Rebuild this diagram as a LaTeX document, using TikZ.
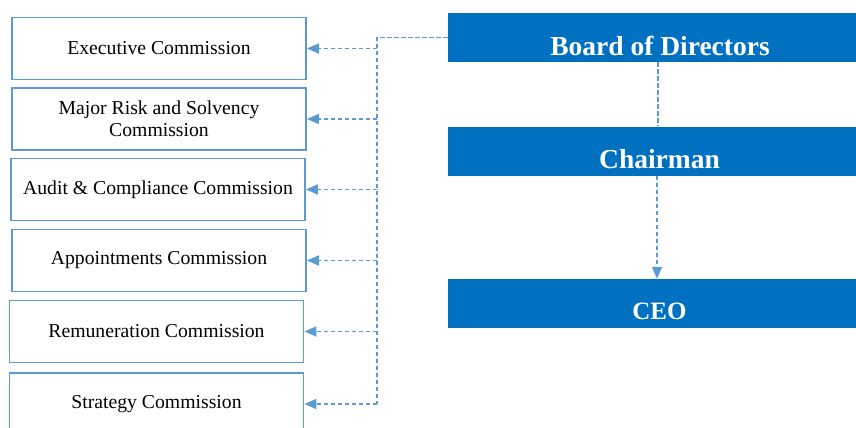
\documentclass[tikz,border=0pt]{standalone}
\usepackage{fontspec}
\setmainfont{Liberation Serif}
\usetikzlibrary{arrows.meta}

\definecolor{boardblue}{HTML}{0070C0}
\definecolor{linkblue}{HTML}{5B9BD5}

\tikzset{
	comm/.style={draw=linkblue, line width=1.8pt, minimum width=294pt, minimum height=62pt,
		inner sep=0pt, align=center, font=\fontsize{19.7}{22}\selectfont},
	head/.style={fill=boardblue, minimum width=424pt, minimum height=49pt, inner sep=0pt},
	headtext/.style={text=white, font=\bfseries\fontsize{27.5}{30}\selectfont, yshift=-8pt},
	link/.style={draw=linkblue, line width=1.8pt, dash pattern=on 4.5pt off 2.5pt},
	tip/.style={-{Triangle[length=12pt,width=10pt]}}
}

\begin{document}
\begin{tikzpicture}[x=1pt,y=-1pt]
		\useasboundingbox (0,0) rectangle (856,428);
		\clip (0,0) rectangle (856,428);
		% commissions
		\node [comm] at (159,48.5) (exec) {Executive Commission};
		\node [comm] at (159,119) (risk) {Major Risk and Solvency\\Commission};
		\node [comm] at (158,189.5) (audit) {Audit \& Compliance Commission};
		\node [comm] at (159,260.5) (appt) {Appointments Commission};
		\node [comm] at (156.5,331.5) (remu) {Remuneration Commission};
		\node [comm] at (156.5,404) (strat) {Strategy Commission};
		% governing bodies
		\node [head, label={[headtext]center:Board of Directors}] at (660,37.5) (board) {};
		\node [head, label={[headtext]center:Chairman}] at (659.5,151) (chair) {};
		\node [head, label={[headtext, font=\bfseries\fontsize{25}{28}\selectfont]center:CEO}] at (659.5,303.5) (ceo) {};
		% links
		\coordinate (bus) at (377,0);
		\draw [link] (board.west) -- (bus |- board.west) -- (bus |- strat.east);
		\foreach \c in {exec,risk,audit,appt,remu,strat}
			\draw [link, tip] (bus |- \c.east) -- (\c.east);
		\draw [link] ([xshift=-2pt]board.south) -- ([xshift=-1.5pt]chair.north);
		\draw [link, tip] ([xshift=-2.5pt]chair.south) -- ([xshift=-2.5pt]ceo.north);
	\end{tikzpicture}
\end{document}
